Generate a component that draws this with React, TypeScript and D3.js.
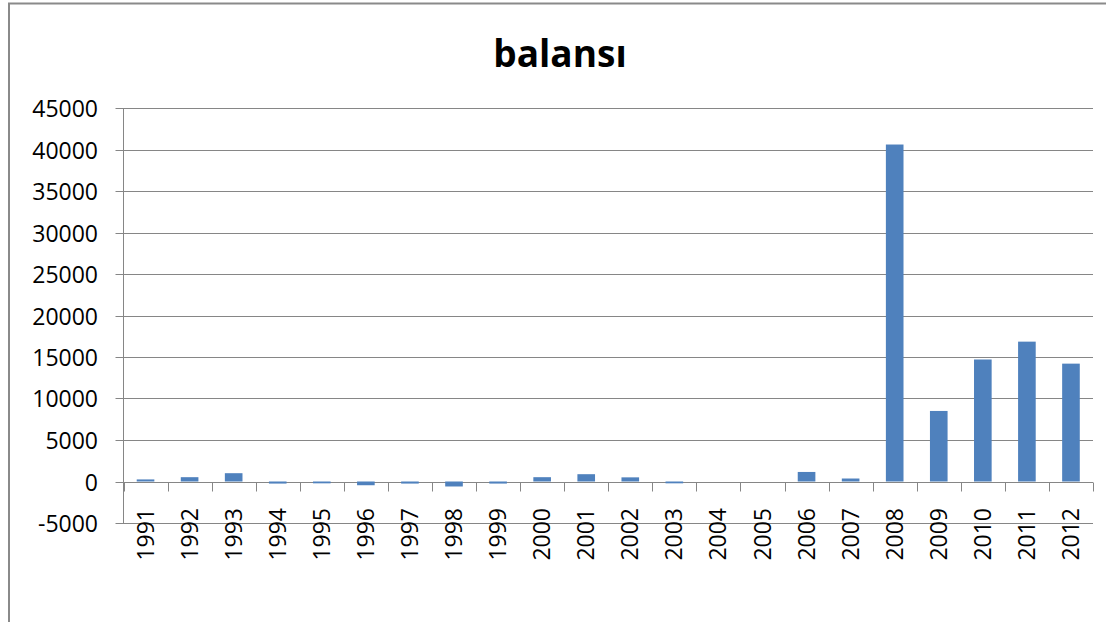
import React, { useEffect, useRef } from 'react';
import * as d3 from 'd3';

// yearly values
const years = ['1991', '1992', '1993', '1994', '1995', '1996', '1997', '1998', '1999', '2000', '2001',
  '2002', '2003', '2004', '2005', '2006', '2007', '2008', '2009', '2010', '2011', '2012'];
const balance = [250, 520, 1000, -250, -220, -450, -250, -600, -250, 520, 880,
  500, -220, 0, 0, 1150, 360, 40600, 8500, 14700, 16850, 14200];
const yTicks = [-5000, 0, 5000, 10000, 15000, 20000, 25000, 30000, 35000, 40000, 45000];
const title = 'balansı';

const W = 1106;
const H = 622;
const font = '"Open Sans", "Noto Sans", sans-serif';

const App = () => {
  const svgRef = useRef<SVGSVGElement>(null);

  useEffect(() => {
    const svg = d3.select(svgRef.current);
    svg.selectAll('*').remove();

    const left = 123.5, right = 1093, top = 108, bottom = 523;

    const x = d3.scaleBand<string>()
      .domain(years)
      .range([left, right])
      .paddingInner(0.6)
      .paddingOuter(0.3);
    const y = d3.scaleLinear().domain([-5000, 45000]).range([bottom, top]);

    // chart frame
    svg.append('path')
      .attr('d', `M9,${H} V3.5 H${W}`)
      .attr('fill', 'none')
      .attr('stroke', '#8a8a8a')
      .attr('stroke-width', 2);

    svg.append('text')
      .attr('x', 560)
      .attr('y', 67)
      .attr('text-anchor', 'middle')
      .style('font-family', font)
      .style('font-weight', 'bold')
      .style('font-size', '37px')
      .text(title);

    // gridlines + y ticks
    const grid = svg.append('g');
    yTicks.forEach(t => {
      const yy = Math.round(y(t)) + 0.5;
      grid.append('line')
        .attr('x1', left - 8).attr('x2', right)
        .attr('y1', yy).attr('y2', yy)
        .attr('stroke', '#868686');
      grid.append('text')
        .attr('x', 98)
        .attr('y', yy)
        .attr('dy', '0.35em')
        .attr('text-anchor', 'end')
        .style('font-family', font)
        .style('font-size', '23px')
        .text(t);
    });

    svg.append('line')
      .attr('x1', left).attr('x2', left)
      .attr('y1', top).attr('y2', bottom)
      .attr('stroke', '#868686');

    // bars
    svg.append('g')
      .selectAll('rect')
      .data(years)
      .enter().append('rect')
      .attr('x', d => x(d)!)
      .attr('width', x.bandwidth())
      .attr('y', (d, i) => y(Math.max(0, balance[i])))
      .attr('height', (d, i) => Math.abs(y(balance[i]) - y(0)))
      .attr('fill', '#4F81BD');

    // category boundary ticks at zero line
    const zeroY = Math.round(y(0)) + 0.5;
    const step = x.step();
    const bounds = d3.range(years.length + 1).map(i => left + i * step);
    svg.append('g')
      .selectAll('line')
      .data(bounds)
      .enter().append('line')
      .attr('x1', d => Math.round(d) + 0.5).attr('x2', d => Math.round(d) + 0.5)
      .attr('y1', zeroY).attr('y2', zeroY + 9)
      .attr('stroke', '#868686');

    // year labels
    svg.append('g')
      .selectAll('text')
      .data(years)
      .enter().append('text')
      .attr('transform', d => `translate(${x(d)! + x.bandwidth() / 2},508) rotate(-90)`)
      .attr('dy', '0.35em')
      .attr('text-anchor', 'end')
      .style('font-family', font)
      .style('font-size', '23px')
      .text(d => d);
  }, []);

  return (
    <svg ref={svgRef} width={W} height={H}
      style={{ position: 'absolute', left: 0, top: 0, background: '#fff' }} />
  );
};

export default App;
